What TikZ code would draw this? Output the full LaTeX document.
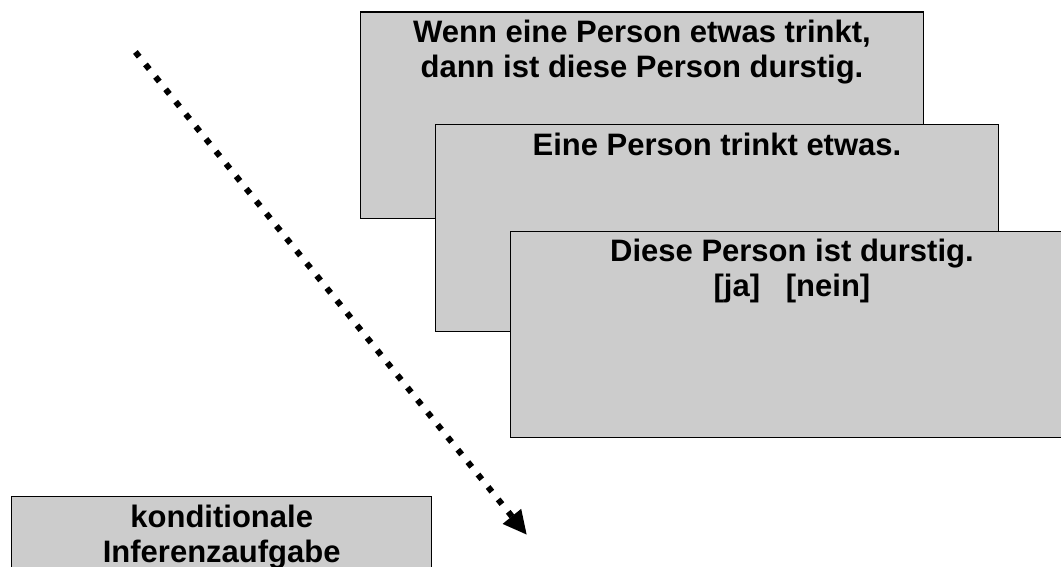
\documentclass[tikz,border=0pt]{standalone}
\usepackage{fontspec}
\setmainfont{Liberation Sans}
\usetikzlibrary{arrows.meta,positioning}
\definecolor{cardgrey}{HTML}{CCCCCC}

\begin{document}
\begin{tikzpicture}[x=1pt,y=-1pt]
        \tikzstyle{card} = [draw=black,line width=1.4pt,fill=cardgrey,rectangle,anchor=north west,inner sep=0pt,minimum width=562.5pt,minimum height=206.5pt]
        \tikzstyle{cardtext} = [anchor=north,align=center,inner sep=0pt,font=\bfseries\fontsize{31}{35}\selectfont]
        \clip (0,0) rectangle (1061,567);

        \foreach \l/\x/\y in {regel/360/11.5, praemisse/435/124, frage/510/230.5} {
          \node[card] (\l) at (\x,\y) {};
        }
        \node[card,minimum width=420pt] (aufgabe) at (11,496) {};

        \node[cardtext,below=8.5pt of regel.north] (regeltext) {Wenn eine Person etwas trinkt,\\dann ist diese Person durstig.};
        \node[cardtext,below=8.5pt of praemisse.north] (praemissetext) {Eine Person trinkt etwas.};
        \node[cardtext,below=8.5pt of frage.north] (fragetext) {Diese Person ist durstig.\\{[ja]}\ \ \ {[nein]}};
        \node[cardtext,below=8.5pt of aufgabe.north] (aufgabetext) {konditionale\\Inferenzaufgabe};

        \coordinate (zeitstart) at (135.4,52);
        \coordinate (zeitende) at (527,535);
        \draw[line width=6pt,dash pattern=on 6pt off 10pt,-{Triangle[length=24pt,width=22pt]}] (zeitstart) -- (zeitende);
      \end{tikzpicture}
\end{document}
